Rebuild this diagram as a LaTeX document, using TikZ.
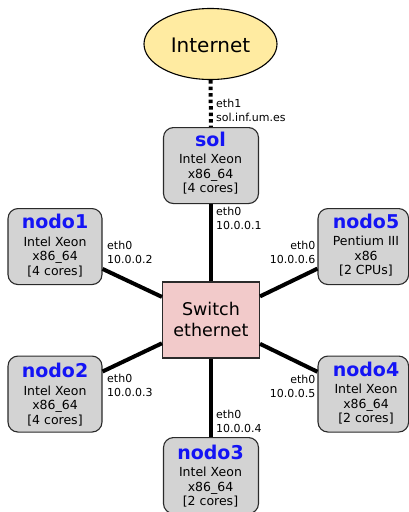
\documentclass[tikz,border=0pt]{standalone}
\usepackage{fontspec}
\setmainfont{DejaVu Sans}
\usetikzlibrary{shapes.geometric}

\definecolor{cloudfill}{HTML}{FFEBA1}
\definecolor{boxfill}{HTML}{D3D3D3}
\definecolor{switchfill}{HTML}{F2CACA}
\definecolor{titleblue}{HTML}{1414F5}
\definecolor{edgegray}{HTML}{2A2A2A}

\tikzset{
  machine/.style={draw=edgegray, line width=1.1pt, fill=boxfill, rounded corners=10pt,
    minimum height=76pt, inner sep=0pt, anchor=north},
  hosttitle/.style={anchor=base, inner sep=0pt, text=titleblue,
    font=\fontsize{19}{19}\selectfont\bfseries},
  hostline/.style={anchor=base, inner sep=0pt, font=\fontsize{12.5}{14}\selectfont},
  portw/.style={anchor=base west, inner sep=0pt, font=\fontsize{11}{13}\selectfont},
  porte/.style={anchor=base east, inner sep=0pt, font=\fontsize{11}{13}\selectfont},
  bigtext/.style={anchor=base, inner sep=0pt, font=\fontsize{17.5}{21}\selectfont},
  link/.style={line width=4pt},
  uplink/.style={line width=4pt, dash pattern=on 3.5pt off 3pt},
}

% host frame: name, centre x, top y, width
\newcommand\hostframe[4]{%
  \node[machine, minimum width=#4pt] (#1) at (#2,#3) {};
}
% host text: name, x, top of text block, title, cpu, arch, cores
\newcommand\hosttext[7]{%
  \node[hosttitle] (#1-name) at (#2,#3+20.5) {#4};
  \node[hostline] (#1-cpu) at (#2,#3+38) {#5};
  \node[hostline] (#1-arch) at (#2,#3+52.5) {#6};
  \node[hostline] (#1-cores) at (#2,#3+67) {#7};
}

\begin{document}
\begin{tikzpicture}[x=1pt, y=-1pt]
  \useasboundingbox (0,0) rectangle (409,512);
  \clip (0,0) rectangle (409,512);

  % outside world
  \node[ellipse, draw=black, line width=1.1pt, fill=cloudfill,
        minimum width=133pt, minimum height=71pt, inner sep=0pt] (inet) at (210.5,44) {};
  \node[bigtext, font=\fontsize{20}{20}\selectfont] (inet-text) at (210.5,52) {Internet};

  % central switch
  \node[draw=edgegray, line width=1.1pt, fill=switchfill, minimum width=97pt,
        minimum height=76pt, inner sep=0pt] (sw) at (211,320) {};
  \node[bigtext] (sw-l1) at (211,315) {Switch};
  \node[bigtext] (sw-l2) at (211,336.5) {ethernet};

  % machines
  \hostframe{sol}{211}{127}{95}
  \hosttext{sol}{210.5}{125.5}{sol}{Intel Xeon}{x86\_64}{[4 cores]}
  \hostframe{nodo1}{55}{208}{94}
  \hosttext{nodo1}{55}{208}{nodo1}{Intel Xeon}{x86\_64}{[4 cores]}
  \hostframe{nodo5}{363.3}{208}{90.6}
  \hosttext{nodo5}{366}{207.5}{nodo5}{Pentium III}{x86}{[2 CPUs]}
  \hostframe{nodo2}{55}{355.5}{94}
  \hosttext{nodo2}{55}{357}{nodo2}{Intel Xeon}{x86\_64}{[4 cores]}
  \hostframe{nodo4}{363.3}{355.5}{90.6}
  \hosttext{nodo4}{366}{355.5}{nodo4}{Intel Xeon}{x86\_64}{[2 cores]}
  \hostframe{nodo3}{211}{437}{95}
  \hosttext{nodo3}{210.5}{438.5}{nodo3}{Intel Xeon}{x86\_64}{[2 cores]}

  % links
  \draw[uplink] (inet) -- (sol);
  \draw[link] (sol) -- (sw);
  \draw[link] (nodo1) -- (sw);
  \draw[link] (nodo5) -- (sw);
  \draw[link] (nodo2) -- (sw);
  \draw[link] (nodo4) -- (sw);
  \draw[link] (nodo3) -- (sw);

  % interface labels
  \node[portw] (p-sol1a) at (216,107) {eth1};
  \node[portw] (p-sol1b) at (216,121) {sol.inf.um.es};
  \node[portw] (p-sol0a) at (216,215) {eth0};
  \node[portw] (p-sol0b) at (216,229) {10.0.0.1};
  \node[portw] (p-n1a) at (107,249.5) {eth0};
  \node[portw] (p-n1b) at (107,263.5) {10.0.0.2};
  \node[porte] (p-n5a) at (315.5,249.5) {eth0};
  \node[porte] (p-n5b) at (315.5,263.5) {10.0.0.6};
  \node[portw] (p-n2a) at (107,382) {eth0};
  \node[portw] (p-n2b) at (107,396) {10.0.0.3};
  \node[porte] (p-n4a) at (315.5,383.5) {eth0};
  \node[porte] (p-n4b) at (315.5,397.5) {10.0.0.5};
  \node[portw] (p-n3a) at (216,418) {eth0};
  \node[portw] (p-n3b) at (216,432) {10.0.0.4};
\end{tikzpicture}
\end{document}
